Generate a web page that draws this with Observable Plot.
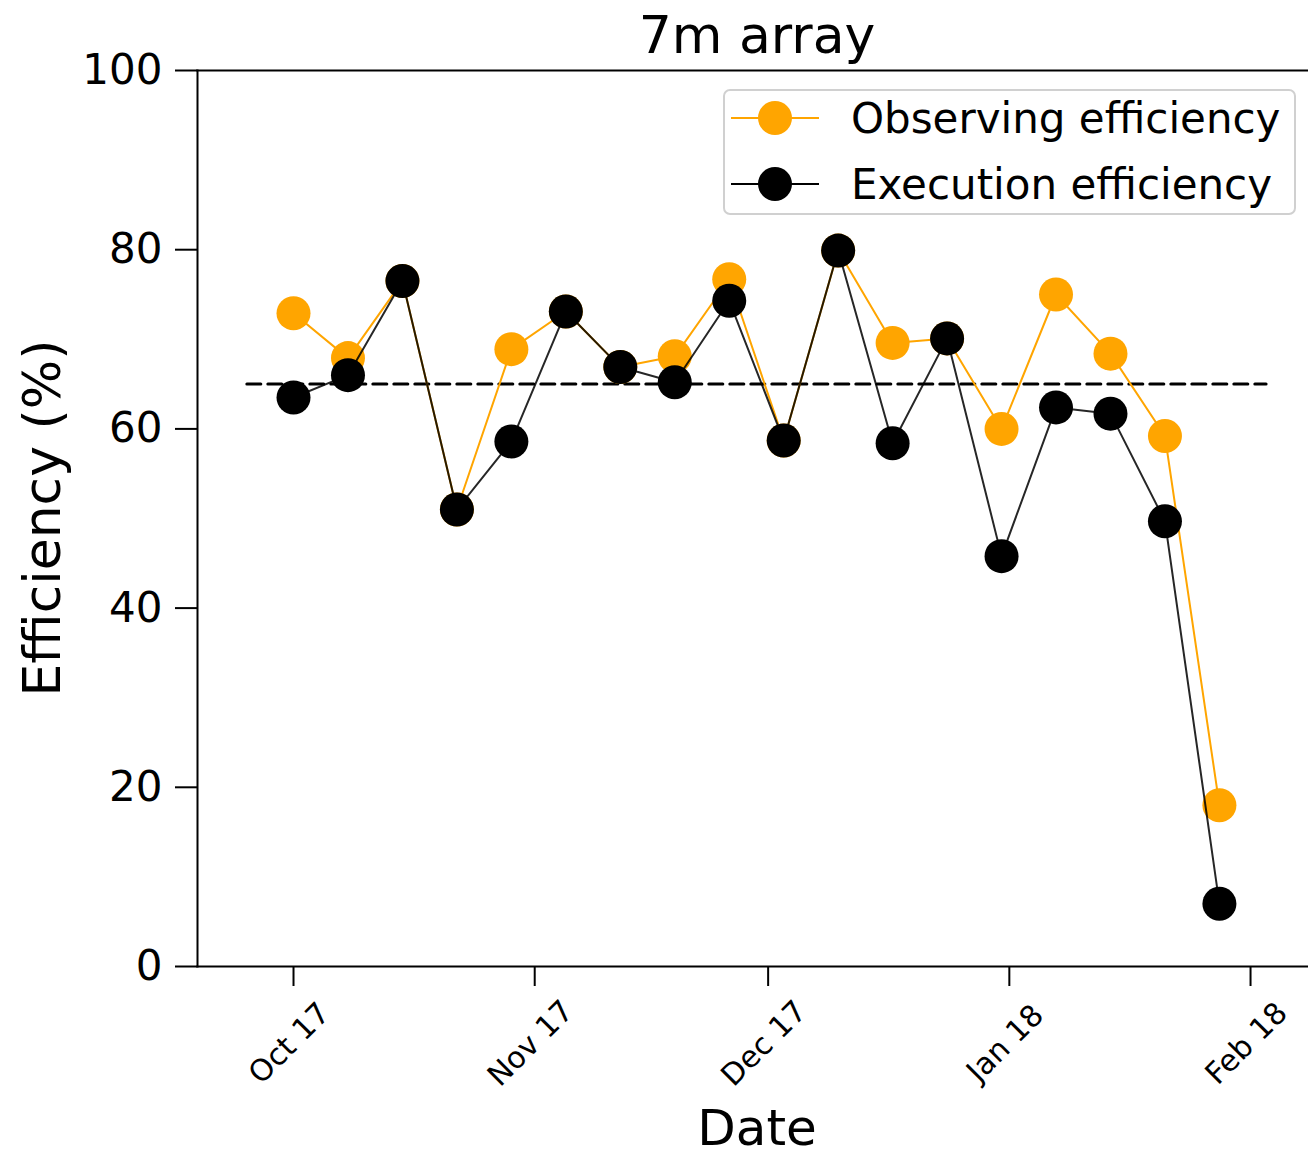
<!DOCTYPE html>
<html>
<head>
<meta charset="utf-8">
<script src="https://cdn.jsdelivr.net/npm/d3@7"></script>
<script src="https://cdn.jsdelivr.net/npm/@observablehq/plot@0.6"></script>
<style>
  html, body { margin: 0; padding: 0; background: #fff; }
  #chart { position: relative; width: 1308px; height: 1156px; overflow: hidden; }
  #chart svg { font-family: "DejaVu Sans", sans-serif; }
</style>
</head>
<body>
<div id="chart"></div>
<script>
// ---- data ----
const dates = ["2017-10-01","2017-10-08","2017-10-15","2017-10-22","2017-10-29","2017-11-05",
  "2017-11-12","2017-11-19","2017-11-26","2017-12-03","2017-12-10","2017-12-17",
  "2017-12-24","2017-12-31","2018-01-07","2018-01-14","2018-01-21","2018-01-28"];
const observing = [72.9, 67.9, 76.5, 51.0, 68.9, 73.1, 66.9, 68.1, 76.7, 58.7, 79.9, 69.6, 70.1, 60.0, 75.0, 68.4, 59.2, 18.0];
const execution = [63.5, 66.0, 76.5, 51.0, 58.6, 73.1, 66.9, 65.2, 74.3, 58.7, 79.9, 58.4, 70.1, 45.8, 62.4, 61.7, 49.7, 7.0];
const thresholdDates = ["2017-09-25", "2018-02-03"];
const thresholdValue = 65;
const xTickDates = ["2017-10-01","2017-11-01","2017-12-01","2018-01-01","2018-02-01"];
const xTickLabels = ["Oct 17","Nov 17","Dec 17","Jan 18","Feb 18"];
const yTicks = [0, 20, 40, 60, 80, 100];
const seriesNames = ["Observing efficiency", "Execution efficiency"];
const seriesColors = ["#ffa500", "#000000"];

// ---- build tables ----
const parse = d3.utcParse("%Y-%m-%d");
const obsData = dates.map((d, i) => ({date: parse(d), value: observing[i]}));
const exeData = dates.map((d, i) => ({date: parse(d), value: execution[i]}));
const thrData = thresholdDates.map(d => ({date: parse(d), value: thresholdValue}));
const xTicks = xTickDates.map(parse);

const day = 864e5;
const oct1 = Date.UTC(2017, 9, 1);
const xDomain = [new Date(oct1 - 12.34 * day), new Date(oct1 + 130.45 * day)];

const W = 1308, H = 1156;
const mLeft = 197, mTop = 70, mBottom = 190, mRight = 0;

const plot = Plot.plot({
  width: W, height: H,
  marginLeft: mLeft, marginRight: mRight, marginTop: mTop, marginBottom: mBottom,
  style: {fontFamily: "DejaVu Sans, sans-serif", color: "#000", background: "#fff"},
  x: {type: "utc", domain: xDomain},
  y: {domain: [0, 100]},
  marks: [
    Plot.frame({anchor: "top", stroke: "#000", strokeWidth: 2}),
    Plot.frame({anchor: "left", stroke: "#000", strokeWidth: 2}),
    Plot.frame({anchor: "bottom", stroke: "#000", strokeWidth: 2}),
    Plot.axisY({ticks: yTicks, tickSize: 22, tickPadding: 13, fontSize: 42, label: null, strokeWidth: 2}),
    Plot.axisX({ticks: xTicks, tickSize: 20, tickFormat: () => "", label: null, strokeWidth: 2}),
    Plot.text(xTicks, {x: d => d, text: (d, i) => xTickLabels[i], frameAnchor: "bottom",
      rotate: -45, textAnchor: "middle", lineAnchor: "middle", dy: 77, dx: -4, fontSize: 30, fill: "#000"}),
    Plot.line(thrData, {x: "date", y: "value", stroke: "#000", strokeWidth: 3, strokeDasharray: "14 7"}),
    Plot.line(obsData, {x: "date", y: "value", stroke: seriesColors[0], strokeWidth: 2}),
    Plot.dot(obsData, {x: "date", y: "value", r: 17, fill: seriesColors[0], stroke: "none"}),
    Plot.line(exeData, {x: "date", y: "value", stroke: seriesColors[1], strokeWidth: 2, strokeOpacity: 0.85}),
    Plot.dot(exeData, {x: "date", y: "value", r: 17, fill: seriesColors[1], stroke: "none"})
  ]
});

document.getElementById("chart").appendChild(plot);

// ---- title, axis labels, legend ----
const svg = d3.select(plot);
svg.append("text").attr("x", 757).attr("y", 53).attr("text-anchor", "middle")
  .attr("font-size", 52).attr("fill", "#000").text("7m array");
svg.append("text").attr("x", 757).attr("y", 1145).attr("text-anchor", "middle")
  .attr("font-size", 50).attr("fill", "#000").text("Date");
svg.append("text").attr("transform", "translate(60,518) rotate(-90)").attr("text-anchor", "middle")
  .attr("font-size", 52).attr("fill", "#000").text("Efficiency (%)");

const lg = svg.append("g");
lg.append("rect").attr("x", 724).attr("y", 90).attr("width", 571).attr("height", 124)
  .attr("rx", 6).attr("fill", "#fff").attr("fill-opacity", 0.8)
  .attr("stroke", "#d0d0d0").attr("stroke-width", 2);
seriesNames.forEach((name, i) => {
  const cy = 118 + i * 66;
  lg.append("line").attr("x1", 731).attr("x2", 819).attr("y1", cy).attr("y2", cy)
    .attr("stroke", seriesColors[i]).attr("stroke-width", 2);
  lg.append("circle").attr("cx", 775).attr("cy", cy).attr("r", 17).attr("fill", seriesColors[i]);
  lg.append("text").attr("x", 851).attr("y", cy).attr("dy", "0.36em").attr("text-anchor", "start")
    .attr("font-size", 42).attr("fill", "#000").text(name);
});
</script>
</body>
</html>
